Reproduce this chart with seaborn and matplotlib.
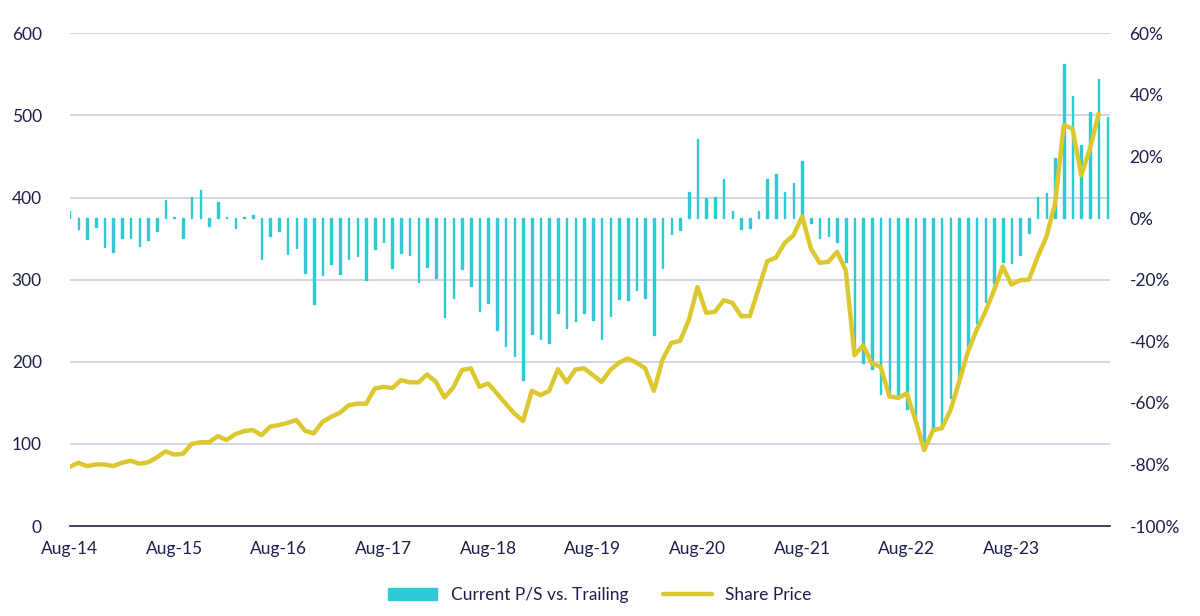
import numpy as np
import pandas as pd
import matplotlib
matplotlib.use("Agg")
import matplotlib.pyplot as plt
import seaborn as sns

sns.set_theme(style="white")
plt.rcParams['font.family'] = ['Lato', 'DejaVu Sans']

tick_labels = ["Aug-14", "Aug-15", "Aug-16", "Aug-17", "Aug-18", "Aug-19",
               "Aug-20", "Aug-21", "Aug-22", "Aug-23"]

ps_vs_trailing = [
    2.4, -3.6, -6.9, -3.0, -9.3, -10.9, -6.4, -6.4, -9.0, -7.1,
    -4.1, 5.8, 0.5, -6.4, 6.9, 9.0, -2.7, 5.1, 0.3, -3.2,
    0.3, 1.0, -13.2, -5.8, -4.2, -11.8, -9.6, -17.8, -28.0, -18.4,
    -14.9, -18.2, -13.2, -12.4, -20.1, -10.0, -7.8, -16.1, -11.3, -12.1,
    -20.7, -15.9, -19.4, -32.0, -25.8, -16.5, -21.9, -30.1, -27.5, -36.5,
    -41.6, -44.9, -52.6, -37.8, -39.2, -40.7, -30.9, -35.8, -33.4, -30.9,
    -33.1, -39.4, -31.7, -26.4, -26.6, -23.2, -26.1, -38.0, -16.3, -5.2,
    -3.9, 8.5, 25.6, 6.4, 7.0, 12.7, 2.3, -3.7, -3.1, 2.3,
    12.7, 14.2, 8.5, 11.4, 18.4, -1.5, -6.4, -5.7, -7.9, -14.2,
    -44.0, -47.0, -49.0, -57.0, -58.0, -58.5, -62.0, -64.5, -74.0, -68.0,
    -68.0, -58.4, -51.5, -41.8, -34.2, -27.4, -21.2, -14.4, -14.5, -12.0,
    -5.0, 6.9, 8.0, 19.4, 49.9, 39.6, 23.7, 34.3, 45.0, 32.9,
]

share_price = [
    72, 77, 73, 75, 75, 73, 77, 79.5, 76, 77.5,
    83.6, 91, 87, 88, 100, 102, 102, 109.5, 104.7, 112,
    115.6, 117, 110.7, 121, 123, 125.7, 129, 116, 112.8, 127,
    133, 138, 147, 149, 149, 167.5, 169.5, 168, 177.7, 175,
    175, 184.6, 175.6, 156.6, 168.8, 190, 192, 169.5, 173.6, 161.5,
    149, 137, 128, 164.7, 159.4, 164.7, 191, 175, 190.7, 192,
    183.8, 175.6, 190, 199, 204, 199, 192, 164.7, 203, 223,
    225.5, 250.7, 291, 259.6, 260.8, 275, 271.8, 255.6, 255.6, 289,
    322.5, 327, 344.8, 354, 377, 338, 320.5, 321.7, 333.8, 311.5,
    208, 220, 198, 194, 158, 156, 161.5, 129, 92.5, 116.8,
    118.9, 141, 175.6, 212, 238.5, 260.8, 287, 316, 294, 299.4,
    300, 327.7, 352, 392.7, 488, 484, 427, 459.7, 502, np.nan,
]

n = len(ps_vs_trailing)
months = np.arange(n)
df = pd.DataFrame({"month": months, "ps": ps_vs_trailing, "price": share_price})

bar_color = "#2ECAD4"
line_color = "#DCC82E"
text_color = "#1B1F4B"
grid_color = "#C9D1DC"

fig = plt.figure(figsize=(12, 6.16), dpi=100)
ax = fig.add_axes([0.058, 0.146, 0.867, 0.8])
ax2 = ax.twinx()

for y in range(100, 601, 100):
    ax2.axhline(-100 + y * 160 / 600, color=grid_color, lw=1.2, zorder=0)

sns.barplot(data=df, x="month", y="ps", native_scale=True, width=0.18,
            color=bar_color, saturation=1, ax=ax2, label="Current P/S vs. Trailing",
            edgecolor=bar_color, linewidth=1.0, zorder=3)
sns.lineplot(data=df, x="month", y="price", color=line_color, linewidth=3.2,
             ax=ax, label="Share Price")

ax.set_zorder(ax2.get_zorder() + 1)
ax.patch.set_visible(False)

ax.set_ylim(0, 600)
ax.set_yticks(range(0, 601, 100))
ax2.set_ylim(-100, 60)
ax2.set_yticks(range(-100, 61, 20))
ax2.set_yticklabels([f"{v}%" for v in range(-100, 61, 20)])
ax.set_xlim(0, 119.3)
ax.set_xticks(np.arange(0, 109, 12))
ax.set_xticklabels(tick_labels)

ax2.grid(False)
ax.grid(False)

for a in (ax, ax2):
    for s in a.spines.values():
        s.set_visible(False)
    a.set_xlabel("")
    a.set_ylabel("")
    a.tick_params(colors=text_color, labelsize=12.5, length=0)
ax.spines["bottom"].set_visible(True)
ax.spines["bottom"].set_color(text_color)
ax.spines["bottom"].set_linewidth(1.2)
ax.tick_params(axis="x", length=5, width=1.2, color=text_color, direction="out", pad=6)
ax.tick_params(axis="y", pad=20)
ax2.tick_params(axis="y", pad=14)

if ax.get_legend():
    ax.get_legend().remove()
if ax2.get_legend():
    ax2.get_legend().remove()
h1, l1 = ax2.get_legend_handles_labels()
h2, l2 = ax.get_legend_handles_labels()
fig.legend(h1 + h2, l1 + l2, loc="lower center", bbox_to_anchor=(0.5, -0.005),
           ncol=2, frameon=False, fontsize=12.5, labelcolor=text_color,
           handlelength=2.8, columnspacing=2.0)

fig.savefig("out.png", dpi=100)
